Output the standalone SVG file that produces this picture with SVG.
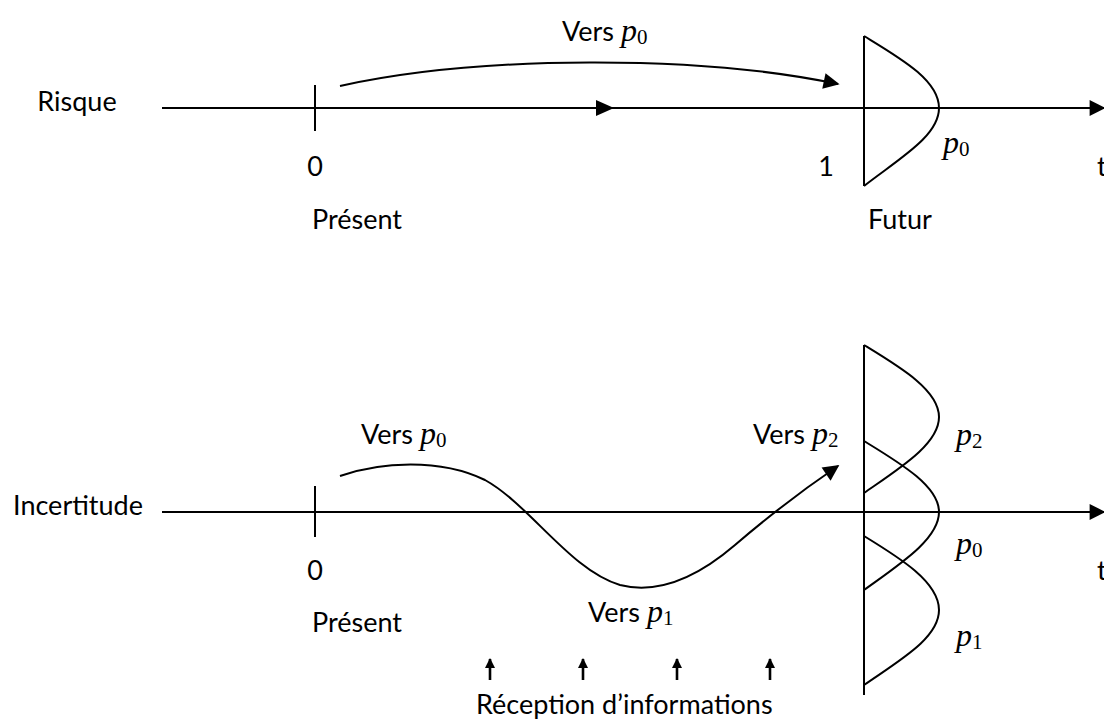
<svg xmlns="http://www.w3.org/2000/svg" width="1104" height="720" viewBox="0 0 1104 720">
  <style>
    .ln { fill: none; stroke: #000; stroke-width: 2; }
    .sm { fill: none; stroke: #000; stroke-width: 2.6; }
    .tx { font-family: "Lato", "Liberation Sans", sans-serif; font-size: 27px; fill: #000; }
    .mi { font-family: "Liberation Serif", "DejaVu Serif", serif; font-style: italic; font-size: 32px; fill: #000; }
    .sb { font-family: "Liberation Serif", "DejaVu Serif", serif; font-style: normal; font-size: 21px; }
  </style>
  <defs>
    <marker id="head" viewBox="0 0 10 10" refX="9" refY="5" markerWidth="11" markerHeight="10" markerUnits="userSpaceOnUse" orient="auto">
      <path d="M0,0 L10,5 L0,10 Z" fill="#000"/>
    </marker>
    <marker id="big" viewBox="0 0 10 10" refX="9" refY="5" markerWidth="18" markerHeight="16" markerUnits="userSpaceOnUse" orient="auto">
      <path d="M0,0 L10,5 L0,10 Z" fill="#000"/>
    </marker>
  </defs>
  <rect width="1104" height="720" fill="#fff"/>

  <!-- Risk panel -->
  <g id="risk-axis">
    <line class="ln" x1="162" y1="108" x2="1104" y2="108" marker-end="url(#big)"/>
    <path d="M596,100 L614,108 L596,116 Z" fill="#000"/>
    <line class="ln" x1="315" y1="85" x2="315" y2="131"/>
    <text class="tx" x="77" y="111" text-anchor="middle">Risque</text>
    <text class="tx" x="315" y="176" text-anchor="middle">0</text>
    <text class="tx" x="826" y="176" text-anchor="middle">1</text>
    <text class="tx" x="1097" y="176">t</text>
    <text class="tx" x="312" y="229">Présent</text>
    <text class="tx" x="900" y="229" text-anchor="middle">Futur</text>
  </g>
  <g id="risk-distribution">
    <line class="ln" x1="864" y1="36" x2="864" y2="186"/>
    <path class="ln" d="M864,36 C900,58 939,80 939,108 C939,136 900,158 864,186"/>
    <text class="mi" x="943" y="153">p<tspan class="sb" dy="3">0</tspan></text>
  </g>

  <!-- Uncertainty panel -->
  <g id="uncertainty-axis">
    <line class="ln" x1="162" y1="512" x2="1104" y2="512" marker-end="url(#big)"/>
    <line class="ln" x1="315" y1="486" x2="315" y2="537"/>
    <text class="tx" x="78" y="515" text-anchor="middle">Incertitude</text>
    <text class="tx" x="315" y="580" text-anchor="middle">0</text>
    <text class="tx" x="1097" y="580">t</text>
    <text class="tx" x="312" y="632">Présent</text>
  </g>
  <g id="uncertainty-distributions">
    <line class="ln" x1="864" y1="345" x2="864" y2="695"/>
    <path class="ln" d="M864,345 C900,367 939,390 939,417 C939,444 900,468 864,493"/>
    <path class="ln" d="M864,441 C900,463 939,486 939,512 C939,539 900,564 864,590"/>
    <path class="ln" d="M864,536 C900,558 939,582 939,610 C939,638 900,660 864,685"/>
    <text class="mi" x="956" y="445">p<tspan class="sb" dy="3">2</tspan></text>
    <text class="mi" x="956" y="554">p<tspan class="sb" dy="3">0</tspan></text>
    <text class="mi" x="956" y="646">p<tspan class="sb" dy="3">1</tspan></text>
  </g>
  <g id="information-arrows">
    <line class="sm" x1="490" y1="680" x2="490" y2="659" marker-end="url(#head)"/>
    <line class="sm" x1="583" y1="680" x2="583" y2="659" marker-end="url(#head)"/>
    <line class="sm" x1="677" y1="680" x2="677" y2="659" marker-end="url(#head)"/>
    <line class="sm" x1="770" y1="680" x2="770" y2="659" marker-end="url(#head)"/>
    <text class="tx" x="476" y="714">Réception d’informations</text>
  </g>

  <!-- Trajectories -->
  <g id="connectors">
    <path class="ln" d="M340,86 C480,55 700,55 838,84" marker-end="url(#big)"/>
    <path class="ln" d="M340,476 C380,462 440,458 485,480 C530,505 570,570 620,585 C660,595 700,575 735,545 C770,515 810,485 838,466" marker-end="url(#big)"/>
  </g>
  <g id="trajectory-labels">
    <text class="tx" x="562" y="41">Vers <tspan class="mi">p<tspan class="sb" dy="3">0</tspan></tspan></text>
    <text class="tx" x="361" y="444">Vers <tspan class="mi">p<tspan class="sb" dy="3">0</tspan></tspan></text>
    <text class="tx" x="753" y="444">Vers <tspan class="mi">p<tspan class="sb" dy="3">2</tspan></tspan></text>
    <text class="tx" x="588" y="622">Vers <tspan class="mi">p<tspan class="sb" dy="3">1</tspan></tspan></text>
  </g>
</svg>
